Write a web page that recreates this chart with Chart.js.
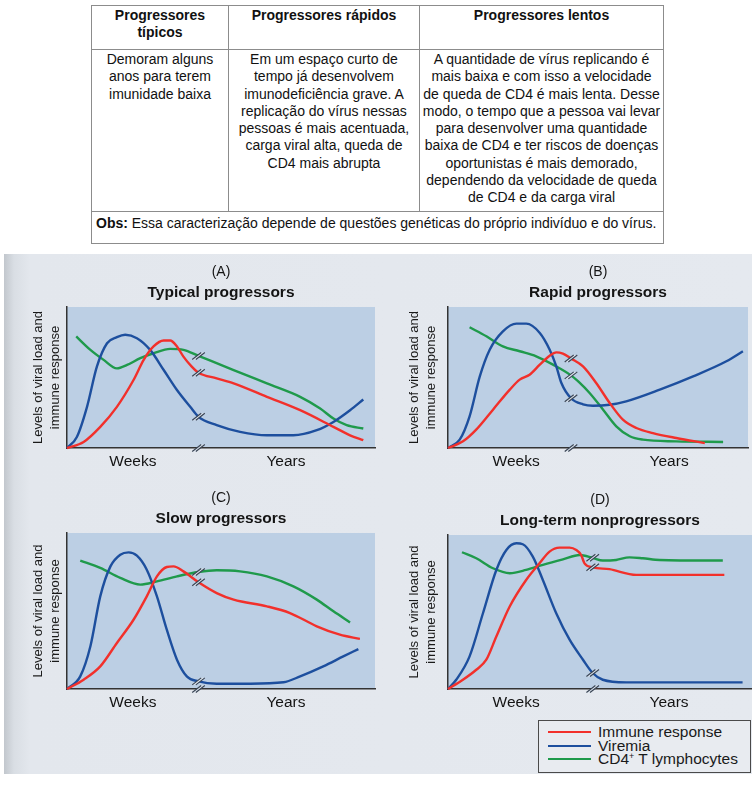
<!DOCTYPE html>
<html lang="pt-BR">
<head>
<meta charset="utf-8">
<title>Progressores HIV</title>
<script src="https://cdn.jsdelivr.net/npm/chart.js@4.4.1/dist/chart.umd.min.js"></script>
<style>
    body {
        margin: 0;
        width: 752px;
        height: 786px;
        position: relative;
        overflow: hidden;
        background: #fff;
        font-family: 'Liberation Sans', Arial, sans-serif;
    }
    table.resumo {
        position: absolute;
        left: 91px;
        top: 5px;
        width: 572px;
        border-collapse: collapse;
        table-layout: fixed;
        font-size: 14px;
        line-height: 17.3px;
        color: #111;
    }
    .resumo th, .resumo td {
        border: 1px solid #8c8c8c;
        text-align: center;
        vertical-align: top;
        padding: 1px 2px 0;
        white-space: nowrap;
    }
    .resumo tr.head { height: 44px; }
    .resumo tr.body { height: 162px; }
    .resumo td.obs { text-align: left; padding: 3px 4px 0; height: 28px; }
    .page {
        position: absolute;
        left: 4px;
        top: 254px;
        width: 748px;
        height: 520px;
        background: linear-gradient(to right, #c2c7cd 0px, #d9dee4 10px, #e3e7ed 26px, #e5e9ef 100%);
    }
    canvas { position: absolute; }
    .legend {
        position: absolute;
        left: 538px;
        top: 720px;
        width: 211px;
        height: 51px;
        border: 1px solid #4a4a4a;
        background: #e8ebf0;
        font-size: 15.5px;
        color: #1a1a1a;
    }
    .legend .row { position: absolute; left: 0; height: 14px; line-height: 14px; white-space: nowrap; }
    .legend .sw { position: absolute; left: 9px; top: 6px; width: 43px; height: 2px; }
    .legend .txt { position: absolute; left: 59px; top: 0; }
    .legend sup { font-size: 9px; vertical-align: 5px; line-height: 0; }
</style>
</head>
<body>

<table class="resumo">
    <colgroup><col style="width:137px"><col style="width:191px"><col style="width:244px"></colgroup>
    <tr class="head">
        <th>Progressores<br>típicos</th>
        <th>Progressores rápidos</th>
        <th>Progressores lentos</th>
    </tr>
    <tr class="body">
        <td>Demoram alguns<br>anos para terem<br>imunidade baixa</td>
        <td>Em um espaço curto de<br>tempo já desenvolvem<br>imunodeficiência grave. A<br>replicação do vírus nessas<br>pessoas é mais acentuada,<br>carga viral alta, queda de<br>CD4 mais abrupta</td>
        <td>A quantidade de vírus replicando é<br>mais baixa e com isso a velocidade<br>de queda de CD4 é mais lenta. Desse<br>modo, o tempo que a pessoa vai levar<br>para desenvolver uma quantidade<br>baixa de CD4 e ter riscos de doenças<br>oportunistas é mais demorado,<br>dependendo da velocidade de queda<br>de CD4 e da carga viral</td>
    </tr>
    <tr>
        <td class="obs" colspan="3"><b>Obs:</b> Essa caracterização depende de questões genéticas do próprio indivíduo e do vírus.</td>
    </tr>
</table>

<div class="page"></div>

<canvas id="chartA" width="360" height="213" style="left:20px; top:262px"></canvas>
<canvas id="chartB" width="352" height="213" style="left:400px; top:262px"></canvas>
<canvas id="chartC" width="360" height="228" style="left:20px; top:488px"></canvas>
<canvas id="chartD" width="352" height="226" style="left:400px; top:490px"></canvas>

<div class="legend" id="legend"></div>

<script>
// series names and colours (same order in every panel)
const seriesNames = ['Immune response', 'Viremia', 'CD4+ T lymphocytes'];
const seriesColors = ['#f2302b', '#1d4f9e', '#1f9a4b'];

// x axis: 0-100, with a break between weeks and years
const tickLabels = ['Weeks', 'Years'];
const weekTickX = [21.4, 22.7, 21.4, 22.4];
const yearTickX = [71.1, 73.7, 71.1, 72.7];
const breakX = [42.7, 41, 42.7, 47.6];

const panelLetters = ['(A)', '(B)', '(C)', '(D)'];
const panelNames = ['Typical progressors', 'Rapid progressors', 'Slow progressors', 'Long-term nonprogressors'];

// (A) typical progressors
const typicalImmune = [[0,0],[5.4,4.3],[10.8,15],[16.2,29.2],[21.6,48.2],[24.9,62.5],[28.1,72],[31.4,76.2],[33.5,76.2],[35.7,72],[37.8,64.8],[40.5,57.7],[42.7,53.4],[48.6,49.4],[54.1,45.8],[64.9,36.3],[75.7,26.8],[86.5,15],[91.9,9],[96.2,5.5]];
const typicalViremia = [[0,0],[3.2,7.8],[6.5,29.2],[9.7,57.7],[13,74.3],[16.2,78.6],[18.9,80.3],[22.7,77.9],[27,69.6],[31.4,55.3],[35.7,41.1],[40,29.2],[42.7,22.1],[48.6,16.2],[56.2,11.4],[64.9,9],[73.5,9],[81.1,12.6],[86.5,18.5],[91.9,26.8],[96.2,34.4]];
const typicalCD4 = [[3,79.1],[7.6,69.6],[11.9,62.5],[16.2,56.5],[19.5,58.9],[23.8,63.7],[28.1,67.2],[33.5,70.3],[37.8,69.6],[42.7,65.3],[54.1,55.3],[64.9,45.8],[75.7,36.3],[82.2,28],[86.5,20.9],[90.8,16.2],[96.2,13.8]];

// (B) rapid progressors
const rapidImmune = [[0,0],[5,4.7],[9.4,13],[15,27.2],[20.6,41.4],[23.9,48.5],[27.2,52],[30.6,59.1],[33.9,65.5],[36.1,67.8],[38.3,66.9],[41,63.5],[45,57.9],[49.4,46.1],[53.9,31.9],[58.3,20.1],[62.8,14.2],[68.3,10.6],[76.1,7.1],[85.6,3.5]];
const rapidViremia = [[0,0],[3.9,5.9],[7.2,22.5],[10.6,50.8],[13.9,69.7],[18.3,82.7],[22.8,88.2],[26.1,88.2],[30.6,81.6],[33.9,69.7],[36.1,57.9],[37.8,46.1],[41,35.3],[45,31],[48.3,30],[53.9,30.7],[59.4,33.1],[70.6,41.4],[81.7,50.8],[92.8,61.5],[98.3,68.6]];
const rapidCD4 = [[7.2,85.6],[12.8,79.2],[18.3,72.1],[23.9,68.6],[29.4,65],[35,59.1],[41,51.5],[43.5,47],[47.2,39],[51.7,27.2],[56.1,15.4],[60.6,8.3],[65,5.9],[76.1,4.7],[91.7,4.3]];

// (C) slow progressors
const slowImmune = [[0,0],[5.4,6],[10.8,14.5],[16.2,29.5],[21.6,44.4],[25.9,59.4],[29.2,72.2],[32.4,78.2],[34.6,78.6],[37.8,75.4],[42.7,68.4],[48.6,61.5],[54.1,57.3],[64.9,53],[72.4,48.7],[81.1,40.2],[88.6,34.8],[95.1,32.1]];
const slowViremia = [[0,0],[4.3,8.1],[7.6,27.4],[10.8,59.4],[14.1,78.6],[17.3,86.1],[20,87.6],[22.7,85.5],[25.9,76.5],[29.2,59.4],[32.4,38],[35.7,18.8],[38.9,8.1],[42.7,4.9],[48.6,3.4],[59.5,3.4],[70.3,4.3],[75.7,8.1],[83.2,14.5],[89.7,20.9],[94.6,25.6]];
const slowCD4 = [[4.3,82.3],[10.8,77.6],[17.3,71.2],[23.8,66.9],[29.2,69],[35.7,72.2],[42.7,75],[48.6,76.1],[56.2,75.4],[64.9,72.2],[73.5,65.8],[81.1,57.3],[86.5,49.8],[91.9,42.7]];

// (D) long-term nonprogressors
const ltnpImmune = [[0,0],[4.9,6],[9.3,12.5],[12.6,19],[15.9,34.1],[20.3,53.6],[25.7,70.8],[30.1,81.6],[33.4,89.2],[36.7,91.8],[40,91.8],[42.2,90.3],[43.8,87],[44.9,81.6],[47.6,79],[53.1,77.8],[61.9,74.1],[75,74.1],[90.9,74.1]];
const ltnpViremia = [[0,0],[2.7,6],[7.1,21.2],[11.5,49.2],[15.9,77.3],[19.2,90.3],[22.5,94.6],[24.6,94],[27.9,86],[31.2,70.8],[35.6,49.2],[40,32],[44.4,19],[47.6,10.4],[50.9,6],[58.6,4.3],[75,4.3],[96.9,4.3]];
const ltnpCD4 = [[4.6,88.8],[9.3,84.9],[14.8,78.4],[20.3,75.2],[25.7,77.3],[31.2,80.6],[37.8,84.2],[43.3,87],[47.6,85.2],[50.9,83.4],[55.3,83.8],[59.7,85.5],[64.1,84.9],[69.6,83.8],[90.4,83.4]];

const panelSeries = [
    [typicalImmune, typicalViremia, typicalCD4],
    [rapidImmune, rapidViremia, rapidCD4],
    [slowImmune, slowViremia, slowCD4],
    [ltnpImmune, ltnpViremia, ltnpCD4]
];

// chart area placement inside each canvas
const yAxisWidth = [47, 48, 47, 48];
const padRight = [5, 4, 5, 0];

const FONT = "'Liberation Sans', Arial, sans-serif";
const PLOT_BG = '#bccfe4';

// little "//" marker that shows the time-scale break
function drawBreak(ctx, x, y) {
    const hx = 4.5, hy = 3.5, gap = 1.8;
    ctx.save();
    ctx.beginPath();
    ctx.moveTo(x - gap - hx, y + hy);
    ctx.lineTo(x - gap + hx, y - hy);
    ctx.lineTo(x + gap + hx, y - hy);
    ctx.lineTo(x + gap - hx, y + hy);
    ctx.closePath();
    ctx.fillStyle = '#dfe7f0';
    ctx.fill();
    ctx.strokeStyle = '#3b4656';
    ctx.lineWidth = 1.2;
    ctx.beginPath();
    ctx.moveTo(x - gap - hx, y + hy);
    ctx.lineTo(x - gap + hx, y - hy);
    ctx.moveTo(x + gap - hx, y + hy);
    ctx.lineTo(x + gap + hx, y - hy);
    ctx.stroke();
    ctx.restore();
}

const panelDecor = {
    id: 'panelDecor',
    beforeDraw(chart, args, opts) {
        const { ctx, chartArea: a } = chart;
        ctx.save();
        ctx.fillStyle = PLOT_BG;
        ctx.fillRect(a.left, a.top, a.right - a.left, a.bottom - a.top);
        ctx.restore();
    },
    afterDraw(chart, args, opts) {
        const { ctx, chartArea: a, scales } = chart;
        const cx = (a.left + a.right) / 2;
        ctx.save();
        ctx.fillStyle = '#141414';
        ctx.textAlign = 'center';
        ctx.textBaseline = 'middle';
        ctx.font = '14px ' + FONT;
        ctx.fillText(opts.letter, cx, a.top - 35);
        ctx.font = 'bold 15.5px ' + FONT;
        ctx.fillText(opts.name, cx, a.top - 14);
        ctx.restore();

        drawBreak(ctx, scales.x.getPixelForValue(opts.breakAt), a.bottom);
        chart.data.datasets.forEach((ds, i) => {
            const idx = ds.data.findIndex(p => p.x === opts.breakAt);
            if (idx < 0) return;
            const pt = chart.getDatasetMeta(i).data[idx];
            drawBreak(ctx, pt.x, pt.y);
        });
    }
};

['chartA', 'chartB', 'chartC', 'chartD'].forEach((id, p) => {
    const tickPos = [weekTickX[p], yearTickX[p]];
    new Chart(document.getElementById(id), {
        type: 'line',
        data: {
            datasets: panelSeries[p].map((pairs, s) => ({
                label: seriesNames[s],
                data: pairs.map(([x, y]) => ({ x, y })),
                borderColor: seriesColors[s],
                borderWidth: 2.4,
                pointRadius: 0,
                cubicInterpolationMode: 'monotone',
                fill: false,
                clip: 4
            }))
        },
        options: {
            responsive: false,
            animation: false,
            events: [],
            layout: { padding: { top: 45, right: padRight[p], left: 0, bottom: 0 } },
            plugins: {
                legend: { display: false },
                tooltip: { enabled: false },
                panelDecor: { letter: panelLetters[p], name: panelNames[p], breakAt: breakX[p] }
            },
            scales: {
                x: {
                    type: 'linear',
                    min: 0,
                    max: 100,
                    grid: { display: false, drawTicks: false },
                    border: { display: true, color: '#333', width: 1.5 },
                    afterBuildTicks: axis => { axis.ticks = tickPos.map(v => ({ value: v })); },
                    afterFit: axis => { axis.height = 27; },
                    ticks: {
                        autoSkip: false,
                        maxRotation: 0,
                        padding: 4,
                        color: '#141414',
                        font: { family: FONT, size: 15.5 },
                        callback: (value) => tickLabels[tickPos.indexOf(value)]
                    }
                },
                y: {
                    min: 0,
                    max: 100,
                    grid: { display: false, drawTicks: false },
                    border: { display: true, color: '#333', width: 1.5 },
                    ticks: { display: false },
                    afterFit: axis => { axis.width = yAxisWidth[p]; },
                    title: {
                        display: true,
                        text: ['Levels of viral load and', 'immune response'],
                        color: '#1a1a1a',
                        font: { family: FONT, size: 13, lineHeight: 1.3 },
                        padding: { top: p % 2 ? 5.6 : 9.6, bottom: 0 }
                    }
                }
            }
        },
        plugins: [panelDecor]
    });
});

// shared legend below panel D
const legend = document.getElementById('legend');
const rowTops = [4, 18, 31];
seriesNames.forEach((name, s) => {
    const row = document.createElement('div');
    row.className = 'row';
    row.style.top = rowTops[s] + 'px';
    row.innerHTML = `<span class="sw" style="background:${seriesColors[s]}"></span>` +
        `<span class="txt">${name.replace('CD4+', 'CD4<sup>+</sup>')}</span>`;
    legend.appendChild(row);
});
</script>
</body>
</html>
